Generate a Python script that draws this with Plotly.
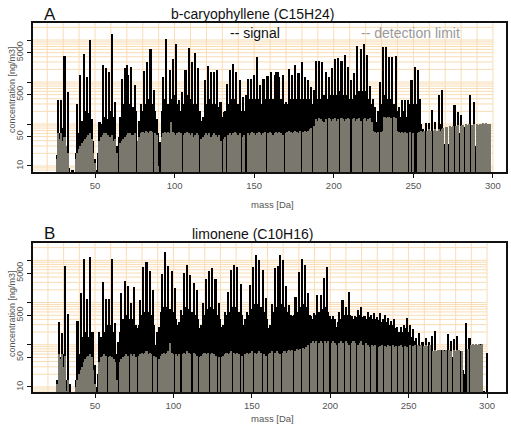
import plotly.graph_objects as go

W, H = 511, 425

mass = list(range(25, 301))

sig_A = [
    5, 18, 370, 60, 370, 80, 4100, 20, 580, 9,
    5, 8, 5, 20, 300, 60, 1450, 120, 4700, 200,
    1320, 180, 9800, 134, 40, 15, 8, 20, 112, 100,
    2560, 150, 2100, 130, 1740, 200, 14000, 150, 330, 30,
    49, 150, 1150, 300, 2100, 2500, 1450, 300, 2300, 250,
    830, 200, 40, 120, 300, 200, 1800, 300, 3000, 400,
    6000, 300, 630, 200, 134, 60, 37, 200, 1320, 400,
    10500, 300, 1900, 400, 3550, 500, 8100, 300, 370, 200,
    580, 300, 1900, 500, 6400, 400, 3000, 300, 5000, 300,
    2100, 200, 120, 150, 1100, 300, 2350, 400, 1750, 300,
    1750, 300, 1900, 250, 330, 150, 194, 200, 910, 300,
    1900, 400, 2750, 400, 1750, 300, 1100, 200, 435, 200,
    500, 1150, 400, 1200, 400, 1500, 400, 4000, 400, 830,
    300, 1200, 400, 1400, 1400, 400, 1750, 400, 1450, 1750,
    1750, 1300, 400, 1450, 300, 330, 300, 2000, 400, 1450,
    400, 2500, 400, 1600, 400, 3000, 400, 1300, 400, 1100,
    400, 760, 300, 650, 3100, 400, 3200, 400, 3000, 500,
    1750, 400, 1300, 500, 2100, 500, 3500, 500, 3700, 600,
    3100, 500, 4400, 500, 2300, 400, 1100, 400, 1600, 500,
    7400, 600, 6000, 600, 8100, 600, 4400, 400, 800, 300,
    400, 250, 112, 200, 1000, 300, 6800, 500, 7000, 400,
    3900, 400, 4000, 300, 4100, 200, 250, 150, 370, 200,
    370, 150, 370, 300, 1100, 300, 2300, 300, 1950, 400,
    100, 78, 60, 105, 70, 105, 70, 215, 60, 110,
    70, 480, 100, 630, 50, 34, 30, 34, 60, 78,
    60, 280, 80, 195, 60, 160, 30, 85, 40, 30,
    20, 500, 80, 330, 30, 93, 20, 15, 10, 8,
    8, 8, 8, 8, 5, 5,
]

det_A = [
    5, 15, 60, 45, 60, 40, 50, 30, 20, 5,
    5, 6, 5, 15, 20, 25, 30, 35, 40, 45,
    50, 55, 60, 45, 20, 12, 6, 5, 40, 50,
    55, 60, 60, 55, 50, 50, 55, 40, 45, 20,
    5, 35, 40, 45, 50, 55, 60, 60, 55, 55,
    60, 5, 40, 50, 60, 65, 60, 70, 65, 60,
    70, 65, 5, 60, 55, 10, 5, 50, 60, 65,
    60, 65, 60, 110, 65, 60, 55, 60, 65, 60,
    5, 55, 60, 65, 60, 55, 60, 50, 55, 60,
    55, 5, 45, 50, 55, 60, 55, 60, 50, 55,
    60, 55, 50, 55, 40, 5, 45, 50, 5, 55,
    60, 55, 60, 65, 60, 55, 60, 5, 50, 55,
    5, 60, 55, 60, 65, 60, 55, 60, 65, 60,
    55, 60, 65, 5, 60, 65, 60, 55, 60, 65,
    60, 65, 60, 55, 5, 60, 65, 70, 65, 60,
    65, 70, 65, 60, 70, 5, 65, 70, 65, 70,
    75, 80, 5, 90, 130, 120, 140, 130, 120, 110,
    130, 5, 140, 130, 120, 130, 140, 120, 130, 5,
    140, 130, 120, 135, 140, 130, 5, 130, 140, 120,
    130, 140, 120, 5, 130, 140, 120, 130, 140, 110,
    70, 65, 60, 65, 5, 65, 70, 150, 140, 150,
    150, 140, 5, 150, 140, 70, 65, 60, 65, 60,
    65, 60, 5, 65, 5, 60, 5, 5, 60, 65,
    70, 65, 70, 5, 70, 75, 70, 5, 70, 75,
    70, 75, 70, 75, 80, 5, 85, 5, 90, 85,
    90, 5, 90, 95, 5, 90, 95, 5, 100, 95,
    100, 5, 95, 100, 5, 100, 95, 100, 100, 105,
    100, 105, 100, 100, 5, 5,
]

sig_B = [
    5, 15, 355, 50, 185, 60, 7200, 15, 525, 12,
    5, 5, 6, 15, 370, 60, 1660, 150, 11000, 200,
    1230, 150, 11700, 200, 200, 34, 10, 20, 205, 150,
    3000, 200, 1230, 300, 1230, 300, 11000, 200, 320, 60,
    117, 200, 1660, 400, 3260, 500, 2400, 400, 1000, 400,
    2300, 300, 245, 300, 1150, 500, 6800, 600, 9100, 600,
    5700, 500, 2000, 300, 100, 200, 270, 600, 4700, 800,
    16000, 800, 7200, 700, 5700, 600, 2200, 400, 300, 350,
    680, 500, 5000, 800, 7600, 700, 4600, 600, 2900, 500,
    2000, 400, 245, 300, 950, 500, 3650, 700, 5700, 800,
    6600, 700, 3650, 500, 950, 400, 270, 300, 610, 500,
    1800, 600, 6000, 800, 7600, 800, 6800, 600, 2750, 500,
    300, 400, 590, 500, 2600, 700, 6800, 900, 13700, 900,
    10000, 800, 6000, 600, 1300, 400, 245, 300, 900, 600,
    6600, 800, 7200, 13200, 900, 10000, 800, 2500, 600, 890,
    500, 470, 500, 1380, 600, 5200, 800, 11000, 900, 7900,
    800, 1660, 500, 470, 400, 560, 500, 1480, 600, 1500,
    700, 3800, 800, 6800, 600, 470, 400, 470, 400, 270,
    350, 610, 400, 1150, 500, 800, 500, 1800, 500, 480,
    400, 470, 450, 680, 500, 800, 450, 470, 400, 610,
    450, 510, 400, 560, 400, 450, 380, 560, 350, 400,
    500, 350, 440, 300, 370, 300, 400, 250, 270, 200,
    270, 200, 300, 250, 440, 200, 300, 150, 230, 120,
    142, 100, 185, 90, 117, 80, 142, 90, 117, 80,
    160, 70, 210, 50, 75, 40, 75, 35, 75, 30,
    175, 60, 120, 50, 140, 50, 160, 40, 70, 30,
    25, 20, 320, 40, 142, 30, 90, 20, 105, 15,
    10, 105, 10, 8, 5, 65,
]

det_B = [
    5, 12, 60, 45, 60, 30, 55, 8, 15, 5,
    5, 5, 5, 10, 15, 20, 25, 30, 40, 45,
    50, 55, 60, 50, 25, 12, 5, 5, 40, 50,
    55, 60, 55, 5, 50, 55, 50, 45, 40, 15,
    5, 40, 45, 50, 55, 60, 55, 5, 60, 55,
    60, 50, 5, 55, 60, 65, 60, 65, 70, 60,
    65, 60, 5, 55, 50, 5, 45, 55, 60, 65,
    60, 65, 70, 110, 65, 60, 5, 60, 55, 60,
    5, 60, 65, 60, 70, 65, 60, 5, 65, 60,
    55, 5, 50, 55, 60, 65, 60, 65, 5, 60,
    65, 60, 55, 5, 50, 5, 50, 55, 60, 65,
    60, 65, 70, 5, 65, 60, 65, 60, 5, 55,
    5, 60, 65, 60, 65, 70, 5, 65, 60, 65,
    70, 65, 5, 60, 55, 5, 60, 65, 70, 5,
    65, 70, 65, 60, 5, 65, 70, 65, 70, 75,
    70, 75, 5, 70, 80, 75, 80, 5, 85, 80,
    90, 100, 5, 110, 120, 110, 120, 5, 110, 120,
    110, 5, 120, 110, 120, 5, 110, 120, 110, 100,
    5, 110, 120, 110, 5, 120, 110, 100, 5, 110,
    120, 110, 5, 100, 110, 120, 100, 5, 110, 100,
    90, 5, 100, 95, 100, 5, 90, 95, 100, 5,
    95, 90, 100, 95, 5, 100, 90, 95, 5, 95,
    100, 90, 5, 95, 90, 5, 100, 5, 95, 100,
    5, 100, 95, 100, 5, 95, 100, 95, 5, 100,
    5, 70, 75, 70, 75, 75, 5, 75, 70, 75,
    5, 75, 70, 5, 75, 70, 75, 75, 5, 70,
    5, 5, 5, 80, 5, 100, 105, 100, 105, 100,
    105, 100, 105, 5, 5, 5,
]

for arr in (sig_A, det_A, sig_B, det_B):
    assert len(arr) == len(mass), len(arr)

x_ticks = [50, 100, 150, 200, 250, 300]
y_tickvals = [10, 50, 100, 500, 1000, 5000, 10000]
y_ticktext = ["10", "50", "", "500", "", "5000", ""]
grid_x = list(range(20, 301, 10))
grid_y = [m * 10 ** e for e in range(0, 5) for m in range(1, 10)]

titles = ["b-caryophyllene (C15H24)", "limonene (C10H16)"]
letters = ["A", "B"]

BLACK = "#000000"
GREY = "#7a776c"
GRID = "#f9dcb4"
TXT = "#555555"

# panel geometry (pixels in the 511x425 page)
panels = [
    dict(top=23, bottom=172, xr=[11.05, 308.2], yr=[0.857, 4.405], title_y=14, lab_y=204, ytitle_y=90),
    dict(top=243, bottom=392, xr=[10.46, 312.1], yr=[0.881, 4.41], title_y=234, lab_y=418, ytitle_y=314),
]
left_px, right_px = 33, 506

fig = go.Figure()
series = [(sig_A, det_A), (sig_B, det_B)]
for i, (s, d) in enumerate(series):
    xa = "x" if i == 0 else "x2"
    ya = "y" if i == 0 else "y2"
    fig.add_trace(go.Bar(x=mass, y=s, width=1.0, marker=dict(color=BLACK, line=dict(width=0)),
                         xaxis=xa, yaxis=ya, hoverinfo="skip", showlegend=False))
    fig.add_trace(go.Bar(x=mass, y=d, width=1.0, marker=dict(color=GREY, line=dict(width=0)),
                         xaxis=xa, yaxis=ya, hoverinfo="skip", showlegend=False))

shapes = []
annotations = []
for i, p in enumerate(panels):
    xr = "x" if i == 0 else "x2"
    yr = "y" if i == 0 else "y2"
    for gx in grid_x:
        shapes.append(dict(type="line", layer="below", xref=xr, yref=yr + " domain",
                           x0=gx, x1=gx, y0=0, y1=1, line=dict(color=GRID, width=1)))
    for gy in grid_y:
        if 10 ** p["yr"][0] < gy < 10 ** p["yr"][1]:
            shapes.append(dict(type="line", layer="below", xref=xr, yref=yr,
                               x0=p["xr"][0], x1=300, y0=gy, y1=gy,
                               line=dict(color=GRID, width=1)))
    annotations.append(dict(text=letters[i], xref="paper", yref="paper", x=42 / W, y=1 - p["title_y"] / H,
                            xanchor="left", yanchor="middle", showarrow=False,
                            font=dict(size=17, color="#111111", family="Liberation Sans, Arial")))
    annotations.append(dict(text=titles[i], xref="paper", yref="paper", x=252 / W, y=1 - p["title_y"] / H,
                            xanchor="center", yanchor="middle", showarrow=False,
                            font=dict(size=14, color="#111111", family="Liberation Sans, Arial")))
    annotations.append(dict(text="mass [Da]", xref="paper", yref="paper", x=272 / W, y=1 - p["lab_y"] / H,
                            xanchor="center", yanchor="middle", showarrow=False,
                            font=dict(size=9.5, color=TXT, family="Liberation Sans, Arial")))
    annotations.append(dict(text="concentration [ng/m3]", xref="paper", yref="paper", x=12 / W,
                            y=1 - p["ytitle_y"] / H, xanchor="center", yanchor="middle", textangle=-90,
                            showarrow=False, font=dict(size=9, color=TXT, family="Liberation Sans, Arial")))

annotations.append(dict(text="-- signal", xref="paper", yref="paper", x=228 / W, y=1 - 33 / H,
                        xanchor="left", yanchor="middle", showarrow=False,
                        font=dict(size=14, color="#111111", family="Liberation Sans, Arial")))
annotations.append(dict(text="-- detection limit", xref="paper", yref="paper", x=359 / W, y=1 - 33 / H,
                        xanchor="left", yanchor="middle", showarrow=False,
                        font=dict(size=14, color="#9a9a9a", family="Liberation Sans, Arial")))

def xaxis_cfg(p):
    return dict(domain=[left_px / W, right_px / W], range=p["xr"], showgrid=False, zeroline=False,
                showline=True, mirror=True, linecolor="#111111", linewidth=2,
                ticks="outside", ticklen=4, tickcolor="#111111", tickwidth=1,
                tickvals=x_ticks, tickfont=dict(size=9.5, color=TXT, family="Liberation Sans, Arial"))

def yaxis_cfg(p, anchor):
    return dict(type="log", domain=[1 - p["bottom"] / H, 1 - p["top"] / H], range=p["yr"],
                showgrid=False, zeroline=False, showline=True, mirror=True, linecolor="#111111",
                linewidth=2, ticks="outside", ticklen=4, tickcolor="#111111", tickwidth=1,
                tickvals=y_tickvals, ticktext=y_ticktext, tickangle=-90, anchor=anchor,
                tickfont=dict(size=9, color=TXT, family="Liberation Sans, Arial"))

fig.update_layout(
    width=W, height=H, margin=dict(l=0, r=0, t=0, b=0),
    paper_bgcolor="white", plot_bgcolor="white",
    barmode="overlay", bargap=0, showlegend=False,
    xaxis=dict(**xaxis_cfg(panels[0]), anchor="y"),
    yaxis=yaxis_cfg(panels[0], "x"),
    xaxis2=dict(**xaxis_cfg(panels[1]), anchor="y2"),
    yaxis2=yaxis_cfg(panels[1], "x2"),
    shapes=shapes, annotations=annotations,
)

fig.write_html("out.html")
